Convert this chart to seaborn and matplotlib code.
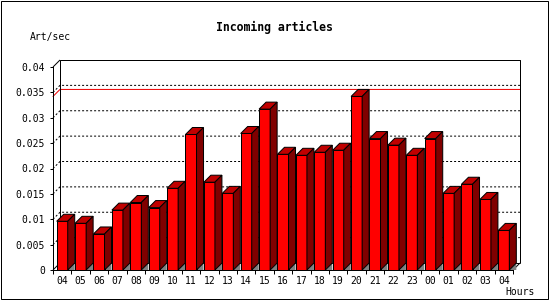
import numpy as np
import pandas as pd
import matplotlib
matplotlib.use("Agg")
import matplotlib.pyplot as plt
import seaborn as sns
from matplotlib.patches import Polygon, Rectangle

# ---- data -------------------------------------------------------------
hours = ["04", "05", "06", "07", "08", "09", "10", "11", "12", "13", "14", "15",
         "16", "17", "18", "19", "20", "21", "22", "23", "00", "01", "02", "03", "04"]
rates = [0.0096, 0.0092, 0.0071, 0.0118, 0.0133, 0.0123, 0.0161, 0.0267, 0.0173,
         0.0151, 0.0269, 0.0317, 0.0228, 0.0226, 0.0232, 0.0236, 0.0342, 0.0259,
         0.0246, 0.0226, 0.0259, 0.0151, 0.0169, 0.0139, 0.0078]
ytick_values = [0, 0.005, 0.01, 0.015, 0.02, 0.025, 0.03, 0.035, 0.04]
ytick_labels = ["0", "0.005", "0.01", "0.015", "0.02", "0.025", "0.03", "0.035", "0.04"]
title = "Incoming articles"
ylabel = "Art/sec"
xlabel = "Hours"

# ---- style ------------------------------------------------------------
sns.set_theme(style="white")
plt.rcParams["font.family"] = ["DejaVu Sans Mono", "DejaVu Sans"]

DPI = 100
W, H = 550, 300
PX = 72.0 / DPI          # one pixel in points
DEPTH = 7                # 3-D depth in pixels

FRONT = "#ff0000"
TOP = "#c00000"
SIDE = "#800000"
FLOOR = "#808080"

fig = plt.figure(figsize=(W / DPI, H / DPI), dpi=DPI)
fig.patch.set_facecolor("white")
ax = fig.add_axes([53 / W, (H - 270) / H, 460 / W, 203 / H])
ax.set_facecolor("none")

df = pd.DataFrame({"slot": np.arange(len(hours)), "hour": hours, "rate": rates})
sns.barplot(data=df, x="slot", y="rate", color=FRONT, saturation=1, width=0.6,
            edgecolor="black", linewidth=PX, ax=ax, zorder=3)

ax.set_xlim(-0.5, len(hours) - 0.5)
ax.set_ylim(ytick_values[0], ytick_values[-1])
ax.set_xlabel("")
ax.set_ylabel("")

# depth in data / axes units
bb = ax.get_window_extent()
x0l, x1l = ax.get_xlim()
y0l, y1l = ax.get_ylim()
dx = DEPTH * (x1l - x0l) / bb.width
dy = DEPTH * (y1l - y0l) / bb.height
dxa = DEPTH / bb.width
dya = DEPTH / bb.height

# 3-D faces for each bar
for p in list(ax.patches):
    x0 = p.get_x()
    w = p.get_width()
    h = p.get_height()
    x1 = x0 + w
    top = Polygon([(x0, h), (x1, h), (x1 + dx, h + dy), (x0 + dx, h + dy)],
                  closed=True, facecolor=TOP, edgecolor="black", linewidth=PX,
                  zorder=3, clip_on=False)
    side = Polygon([(x1, 0), (x1, h), (x1 + dx, h + dy), (x1 + dx, dy)],
                   closed=True, facecolor=SIDE, edgecolor="black", linewidth=PX,
                   zorder=3, clip_on=False)
    floor = Polygon([(x1, 0), (x1 + dx, dy), (x1 + dx, 0)], closed=True,
                    facecolor=FLOOR, edgecolor="none", zorder=2.5, clip_on=False)
    ax.add_patch(floor)
    ax.add_patch(top)
    ax.add_patch(side)

# back wall frame and depth edges
lk = dict(color="black", linewidth=PX, clip_on=False, zorder=2, solid_capstyle="butt")
ax.plot([dxa, dxa, 1 + dxa, 1 + dxa], [dya, 1 + dya, 1 + dya, dya], transform=ax.transAxes, **lk)
ax.plot([dxa, 1 + dxa], [dya, dya], transform=ax.transAxes, **lk)
ax.plot([0, dxa], [1, 1 + dya], transform=ax.transAxes, **lk)
ax.plot([0, dxa], [0, dya], transform=ax.transAxes, **lk)
ax.plot([1, 1 + dxa], [0, dya], transform=ax.transAxes, **lk)

# dotted grid on the back wall
ytr = ax.get_yaxis_transform()
for v in ytick_values[1:-1]:
    ax.plot([0, dxa, 1 + dxa], [v, v + dy, v + dy], transform=ytr, color="black",
            linewidth=PX, linestyle=(0, (2, 2)), zorder=1, clip_on=False)

# red maximum line
m = max(rates)
ax.plot([0, dxa, 1 + dxa], [m, m + dy, m + dy], transform=ytr, color="#ee0000",
        linewidth=PX, zorder=1.5, clip_on=False)

# spines
for s in ["top", "right"]:
    ax.spines[s].set_visible(False)
for s in ["left", "bottom"]:
    ax.spines[s].set_visible(True)
    ax.spines[s].set_color("black")
    ax.spines[s].set_linewidth(PX)
    ax.spines[s].set_zorder(4)

# ticks
ax.set_yticks(ytick_values)
ax.set_yticklabels(ytick_labels)
ax.tick_params(axis="y", which="major", left=True, length=3 * PX, width=PX,
               pad=5 * PX, labelsize=7, colors="black", direction="out")
ax.set_xticks(np.arange(len(hours)))
ax.set_xticklabels(hours)
ax.set_xticks(np.arange(-0.5, len(hours), 1.0), minor=True)
ax.tick_params(axis="x", which="major", bottom=True, length=0, pad=6 * PX,
               labelsize=7, colors="black")
ax.tick_params(axis="x", which="minor", bottom=True, length=4 * PX, width=PX,
               colors="black", direction="out")

# texts
fig.text(274 / W, 1 - 27 / H, title, ha="center", va="center", fontsize=8.3,
         fontweight="bold", color="black")
fig.text(30 / W, 1 - 37 / H, ylabel, ha="left", va="center", fontsize=7, color="black")
fig.text(505 / W, 1 - 292 / H, xlabel, ha="left", va="center", fontsize=7, color="black")

# image border
fig.add_artist(Rectangle((0.5 / W, 1.5 / H), 547.5 / W, 298 / H,
                         transform=fig.transFigure, fill=False,
                         edgecolor="black", linewidth=PX))

fig.savefig("out.png", dpi=DPI)
